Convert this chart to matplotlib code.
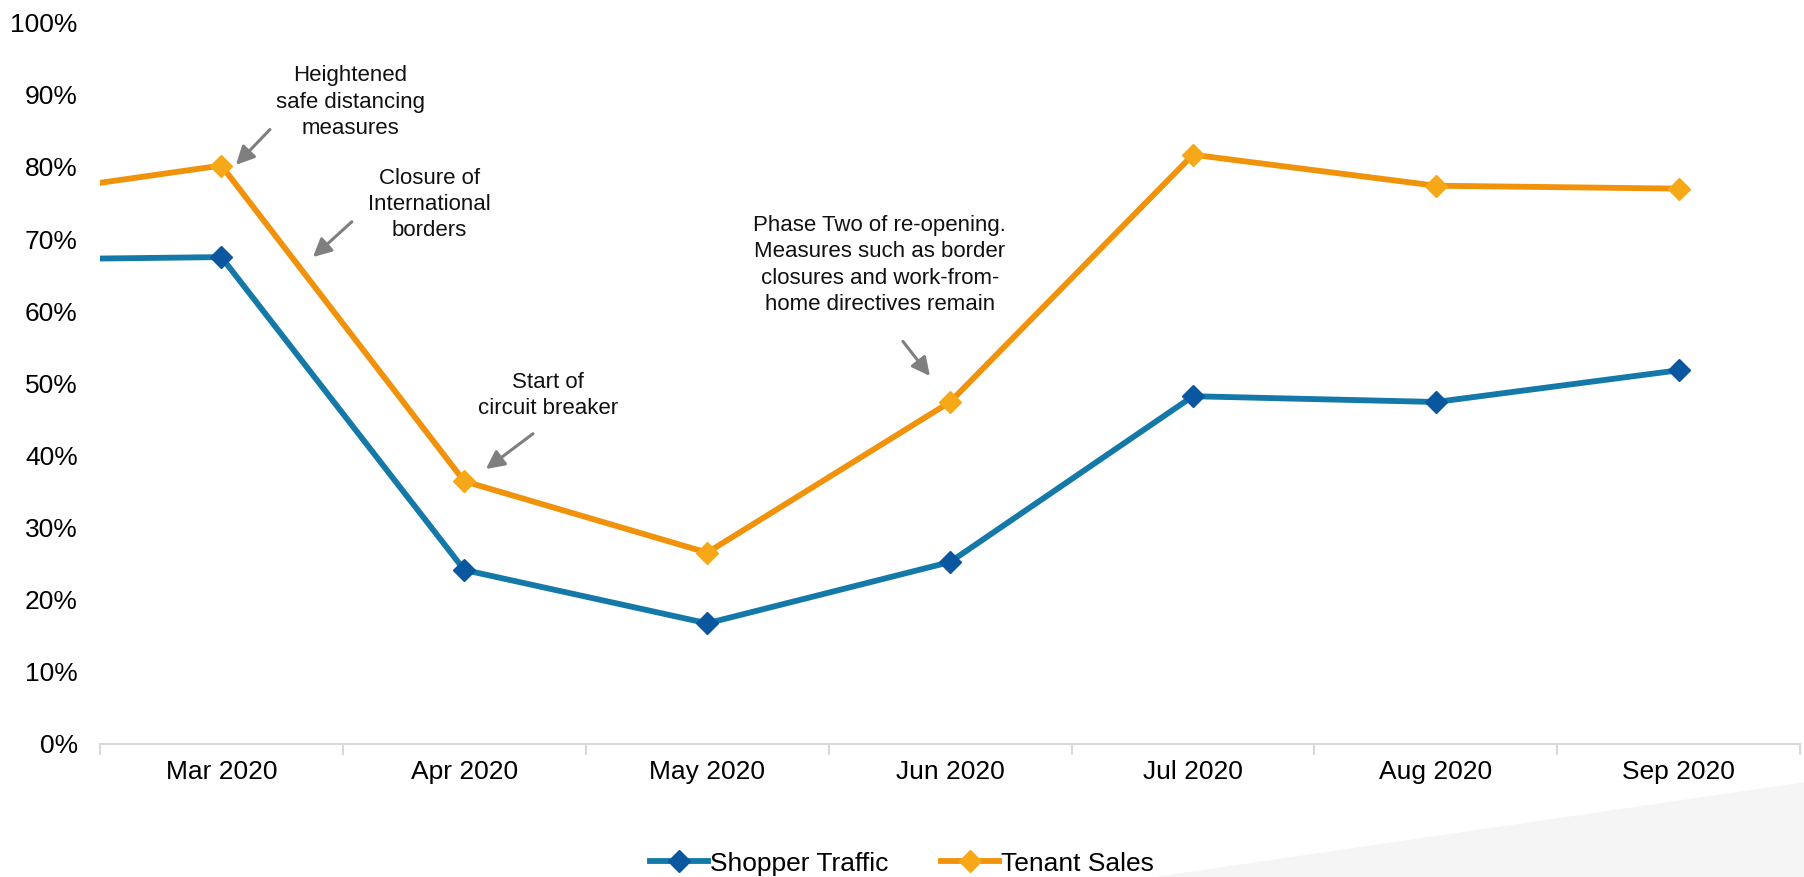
import numpy as np
import matplotlib.pyplot as plt
from matplotlib.lines import Line2D
from matplotlib.patches import Polygon
from matplotlib.ticker import FixedLocator, PercentFormatter

plt.rcParams['font.family'] = ['Liberation Sans', 'DejaVu Sans']

# months shown on the axis (Feb only feeds the clipped segment at the left edge)
months = ['Mar 2020', 'Apr 2020', 'May 2020', 'Jun 2020', 'Jul 2020', 'Aug 2020', 'Sep 2020']
feb_traffic = 67.1
feb_sales = 75.4
shopper_traffic = [67.5, 24.1, 16.7, 25.2, 48.2, 47.4, 51.8]
tenant_sales = [80.2, 36.4, 26.5, 47.4, 81.7, 77.4, 77.0]
series_names = ['Shopper Traffic', 'Tenant Sales']

notes = [
    ('Heightened\nsafe distancing\nmeasures', (0.53, 89.0), (0.20, 85.2), (0.06, 80.3)),
    ('Closure of\nInternational\nborders', (0.855, 74.8), (0.537, 72.4), (0.377, 67.5)),
    ('Start of\ncircuit breaker', (1.344, 48.3), (1.283, 43.0), (1.089, 38.1)),
    ('Phase Two of re-opening.\nMeasures such as border\nclosures and work-from-\nhome directives remain',
     (2.711, 66.4), (2.806, 55.8), (2.917, 51.0)),
]

blue_line, blue_mark = '#1479a8', '#0a57a0'
orange_line, orange_mark = '#f0920a', '#f7a818'

fig = plt.figure(figsize=(18.04, 8.77), dpi=100)

# faint slide background shape, bottom right
fig.patches.append(Polygon([(0.64, 0.0), (1.0, 0.108), (1.0, 0.0)], closed=True,
                           transform=fig.transFigure, facecolor='#f5f5f5',
                           edgecolor='none', zorder=0))

ax = fig.add_axes([0.0554, 0.152, 0.9425, 0.822])
ax.set_facecolor('none')

x = np.arange(len(months))
xs = np.concatenate([[-1], x])

ax.plot(xs, [feb_traffic] + shopper_traffic, color=blue_line, lw=4.2,
        solid_joinstyle='miter', zorder=3)
ax.plot(x, shopper_traffic, ls='none', marker='D', ms=11.5, color=blue_mark, zorder=4)
ax.plot(xs, [feb_sales] + tenant_sales, color=orange_line, lw=4.2,
        solid_joinstyle='miter', zorder=3)
ax.plot(x, tenant_sales, ls='none', marker='D', ms=11.5, color=orange_mark, zorder=4)

for text, txy, start, end in notes:
    ax.text(txy[0], txy[1], text, ha='center', va='center', fontsize=16,
            linespacing=1.32, color='#111111')
    ax.annotate('', xy=end, xytext=start,
                arrowprops=dict(arrowstyle='-|>,head_length=1.1,head_width=0.55',
                                color='#7f7f7f', lw=2.2, shrinkA=0, shrinkB=0))

ax.set_xlim(-0.5, len(months) - 0.5)
ax.set_ylim(0, 100)
ax.set_yticks(np.arange(0, 101, 10))
ax.yaxis.set_major_formatter(PercentFormatter(decimals=0))
ax.set_xticks(x)
ax.set_xticklabels(months)
ax.xaxis.set_minor_locator(FixedLocator(np.arange(-0.5, len(months), 1.0)))

for side in ['top', 'right', 'left']:
    ax.spines[side].set_visible(False)
ax.spines['bottom'].set_color('#d9d9d9')
ax.spines['bottom'].set_linewidth(1.5)

ax.tick_params(axis='y', length=0, labelsize=19, pad=16)
ax.tick_params(axis='x', which='major', length=0, labelsize=19, pad=12)
ax.tick_params(axis='x', which='minor', length=8, width=1.5, color='#d9d9d9')

# legend drawn by hand at the bottom edge, like the slide
leg_y = 0.0182
for x0, name, lc, mc in [(0.3603, series_names[0], blue_line, blue_mark),
                         (0.5216, series_names[1], orange_line, orange_mark)]:
    fig.lines.append(Line2D([x0, x0 + 0.0322], [leg_y, leg_y], transform=fig.transFigure,
                            color=lc, lw=4.2))
    fig.lines.append(Line2D([x0 + 0.0161], [leg_y], transform=fig.transFigure,
                            ls='none', marker='D', ms=11.5, color=mc))
    fig.text(x0 + 0.0333, leg_y, name, ha='left', va='center_baseline', fontsize=19)

fig.savefig('out.png', dpi=100)
